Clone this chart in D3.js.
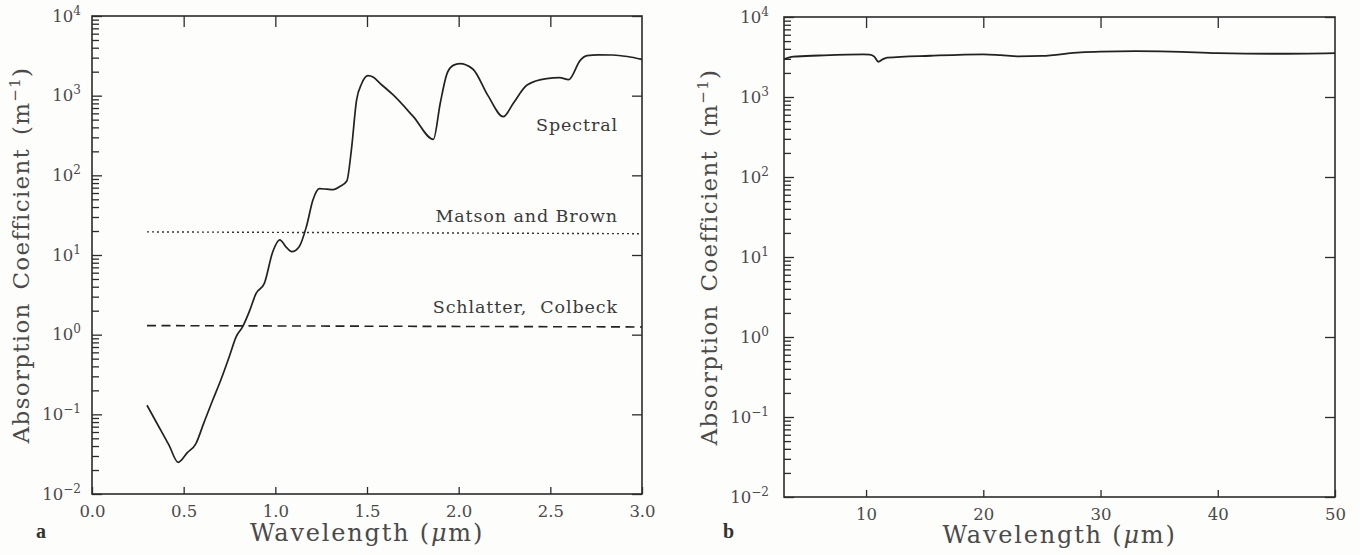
<!DOCTYPE html>
<html>
<head>
<meta charset="utf-8">
<script src="https://cdn.jsdelivr.net/npm/d3@7"></script>
<style>
  html, body { margin: 0; padding: 0; background: #fdfdfc; }
  svg { display: block; }
</style>
</head>
<body>
<svg id="chart" width="1360" height="555"></svg>
<script>
// ---------- DATA ----------
// Panel a: spectral absorption coefficient of ice, 0.3-3.0 µm
const spectralWavelength = [0.30, 0.36, 0.42, 0.47, 0.52, 0.567, 0.61, 0.658, 0.70, 0.75, 0.786, 0.822, 0.86, 0.895, 0.94, 0.986, 1.024, 1.06, 1.09, 1.13, 1.17, 1.205, 1.24, 1.28, 1.315, 1.35, 1.39, 1.415, 1.443, 1.47, 1.505, 1.535, 1.571, 1.643, 1.753, 1.862, 1.90, 1.935, 1.97, 2.006, 2.077, 2.16, 2.243, 2.30, 2.373, 2.48, 2.55, 2.60, 2.664, 2.70, 2.76, 2.84, 2.92, 3.00];
const spectralValue      = [0.13, 0.073, 0.041, 0.025, 0.033, 0.043, 0.078, 0.15, 0.26, 0.54, 0.94, 1.26, 2.0, 3.3, 4.4, 11, 15.5, 12.5, 11, 12.7, 23, 49, 68, 67, 66, 72, 85, 210, 880, 1400, 1780, 1700, 1430, 1020, 545, 283, 815, 1850, 2400, 2520, 2160, 1000, 545, 815, 1360, 1640, 1680, 1590, 2800, 3180, 3250, 3240, 3100, 2850];
// Constant values used by other authors (start and end of each line)
const matsonBrownWavelength = [0.3, 3.0];
const matsonBrownValue      = [19.5, 18.5];
const schlatterWavelength   = [0.3, 3.0];
const schlatterValue        = [1.3, 1.25];
// Panel b: infrared absorption coefficient, 3-50 µm
const irWavelength = [3, 3.8, 6, 9.8, 10.3, 10.7, 11.05, 11.4, 11.8, 15.5, 20.0, 21.5, 23.0, 25.0, 28.3, 30, 33, 36, 40, 45, 50];
const irValue      = [2960, 3190, 3300, 3420, 3380, 3200, 2760, 2950, 3100, 3280, 3420, 3330, 3220, 3260, 3620, 3700, 3750, 3700, 3540, 3470, 3540];
// Tick labels
const xTicksA = [0.0, 0.5, 1.0, 1.5, 2.0, 2.5, 3.0];
const xTicksB = [10, 20, 30, 40, 50];
const yTickExponents = [-2, -1, 0, 1, 2, 3, 4];
const curveLabels = ["Spectral", "Matson and Brown", "Schlatter,  Colbeck"];
const curveLabelValues = [363, 26.2, 1.85];
const panelLetters = ["a", "b"];

// ---------- DRAWING ----------
const svg = d3.select("#chart");
const INK = "#2b2b2b";
const TXT = "#4a4a4a";
const SERIF = "'DejaVu Serif', serif";

const xA = d3.scaleLinear().domain([0, 3]).range([92, 642]);
const yA = d3.scaleLog().domain([1e-2, 1e4]).range([494, 16]);
const xB = d3.scaleLinear().domain([3, 50]).range([784, 1335]);
const yB = d3.scaleLog().domain([1e-2, 1e4]).range([497, 17]);

function drawFrame(x, y, xTicks, fmt, opt) {
  const g = svg.append("g");
  const [x0, x1] = x.range();
  const [yb, yt] = y.range();
  const style = sel => {
    sel.select(".domain").remove();
    sel.selectAll("line").attr("stroke", INK).attr("stroke-width", 1.3);
    sel.selectAll("text").attr("fill", TXT).attr("font-family", SERIF).attr("font-size", 16.5);
  };
  // frame
  g.append("rect").attr("x", x0).attr("y", yt).attr("width", x1 - x0).attr("height", yb - yt)
    .attr("fill", "none").attr("stroke", INK).attr("stroke-width", 1.6);
  // bottom axis (ticks inward)
  g.append("g").attr("transform", `translate(0,${yb})`)
    .call(d3.axisBottom(x).tickValues(xTicks).tickSize(-7).tickSizeOuter(0).tickPadding(11).tickFormat(fmt))
    .call(style);
  // top axis ticks
  const inner = xTicks.filter(v => x(v) > x0 + 2 && x(v) < x1 - 2);
  g.append("g").attr("transform", `translate(0,${yt})`)
    .call(d3.axisTop(x).tickValues(inner).tickSize(-11).tickSizeOuter(0).tickFormat(""))
    .call(style);
  // left axis minor + major ticks
  const majors = yTickExponents.map(e => Math.pow(10, e));
  const minors = y.ticks().filter(v => !majors.some(m => Math.abs(m - v) / m < 1e-6));
  g.append("g").attr("transform", `translate(${x0},0)`)
    .call(d3.axisLeft(y).tickValues(minors).tickSize(-7).tickSizeOuter(0).tickFormat(""))
    .call(style);
  g.append("g").attr("transform", `translate(${x0},0)`)
    .call(d3.axisLeft(y).tickValues(majors).tickSize(-10).tickSizeOuter(0).tickFormat(""))
    .call(style);
  // right axis major ticks
  g.append("g").attr("transform", `translate(${x1},0)`)
    .call(d3.axisRight(y).tickValues(majors).tickSize(-10).tickSizeOuter(0).tickFormat(""))
    .call(style);
  // y tick labels 10^n
  yTickExponents.forEach(e => {
    const t = g.append("text")
      .attr("x", x0 - opt.labelGap).attr("y", y(Math.pow(10, e)) + 5.5)
      .attr("text-anchor", "end").attr("fill", TXT)
      .attr("font-family", SERIF).attr("font-size", 16.5);
    t.append("tspan").text("10");
    t.append("tspan").attr("dy", -7).attr("font-size", 12).text(e < 0 ? "\u2212" + (-e) : String(e));
  });
  // y title
  const yt2 = g.append("text")
    .attr("transform", `translate(${opt.yTitleX},${(yb + yt) / 2}) rotate(-90)`)
    .attr("text-anchor", "middle").attr("fill", TXT)
    .attr("font-family", SERIF).attr("font-size", 23).attr("letter-spacing", 1.3);
  yt2.append("tspan").text("Absorption\u2002Coefficient\u2002(m");
  yt2.append("tspan").attr("dy", -9).attr("font-size", 15).text("\u22121");
  yt2.append("tspan").attr("dy", 9).text(")");
  // x title
  const xt = g.append("text")
    .attr("x", (x0 + x1) / 2).attr("y", opt.xTitleY)
    .attr("text-anchor", "middle").attr("fill", TXT)
    .attr("font-family", SERIF).attr("font-size", 24).attr("letter-spacing", 1.8);
  xt.append("tspan").text("Wavelength (");
  xt.append("tspan").attr("font-style", "italic").text("\u03bc");
  xt.append("tspan").text("m)");
  // panel letter
  g.append("text").attr("x", opt.letterX).attr("y", 538)
    .attr("font-family", "'Liberation Serif', serif").attr("font-weight", "bold")
    .attr("font-size", 20).attr("fill", "#333").text(opt.letter);
  return g;
}

drawFrame(xA, yA, xTicksA, d3.format(".1f"), { labelGap: 11, yTitleX: 29, xTitleY: 541, letterX: 36, letter: panelLetters[0] });
drawFrame(xB, yB, xTicksB, d3.format("d"), { labelGap: 15, yTitleX: 717, xTitleY: 543, letterX: 723, letter: panelLetters[1] });

// Panel a curves
const specData = spectralWavelength.map((w, i) => [w, spectralValue[i]]);
const lineA = d3.line().x(d => xA(d[0])).y(d => yA(d[1])).curve(d3.curveMonotoneX);
svg.append("path").datum(specData).attr("d", lineA)
  .attr("fill", "none").attr("stroke", "#222").attr("stroke-width", 1.7).attr("stroke-linejoin", "round");

const mbData = matsonBrownWavelength.map((w, i) => [w, matsonBrownValue[i]]);
svg.append("path").datum(mbData).attr("d", d3.line().x(d => xA(d[0])).y(d => yA(d[1])))
  .attr("fill", "none").attr("stroke", "#333").attr("stroke-width", 1.4).attr("stroke-dasharray", "2,3");

const scData = schlatterWavelength.map((w, i) => [w, schlatterValue[i]]);
svg.append("path").datum(scData).attr("d", d3.line().x(d => xA(d[0])).y(d => yA(d[1])))
  .attr("fill", "none").attr("stroke", "#222").attr("stroke-width", 1.6).attr("stroke-dasharray", "9,5.5");

// Curve labels
curveLabels.forEach((lab, i) => {
  svg.append("text").attr("x", 618).attr("y", yA(curveLabelValues[i]))
    .attr("text-anchor", "end").attr("fill", "#3a3a3a").attr("xml:space", "preserve")
    .style("white-space", "pre")
    .attr("font-family", SERIF).attr("font-size", 17.5).attr("letter-spacing", 0.9).text(lab);
});

// Panel b curve
const irData = irWavelength.map((w, i) => [w, irValue[i]]);
const lineB = d3.line().x(d => xB(d[0])).y(d => yB(d[1])).curve(d3.curveMonotoneX);
svg.append("path").datum(irData).attr("d", lineB)
  .attr("fill", "none").attr("stroke", "#222").attr("stroke-width", 1.8).attr("stroke-linejoin", "round");
</script>
</body>
</html>
